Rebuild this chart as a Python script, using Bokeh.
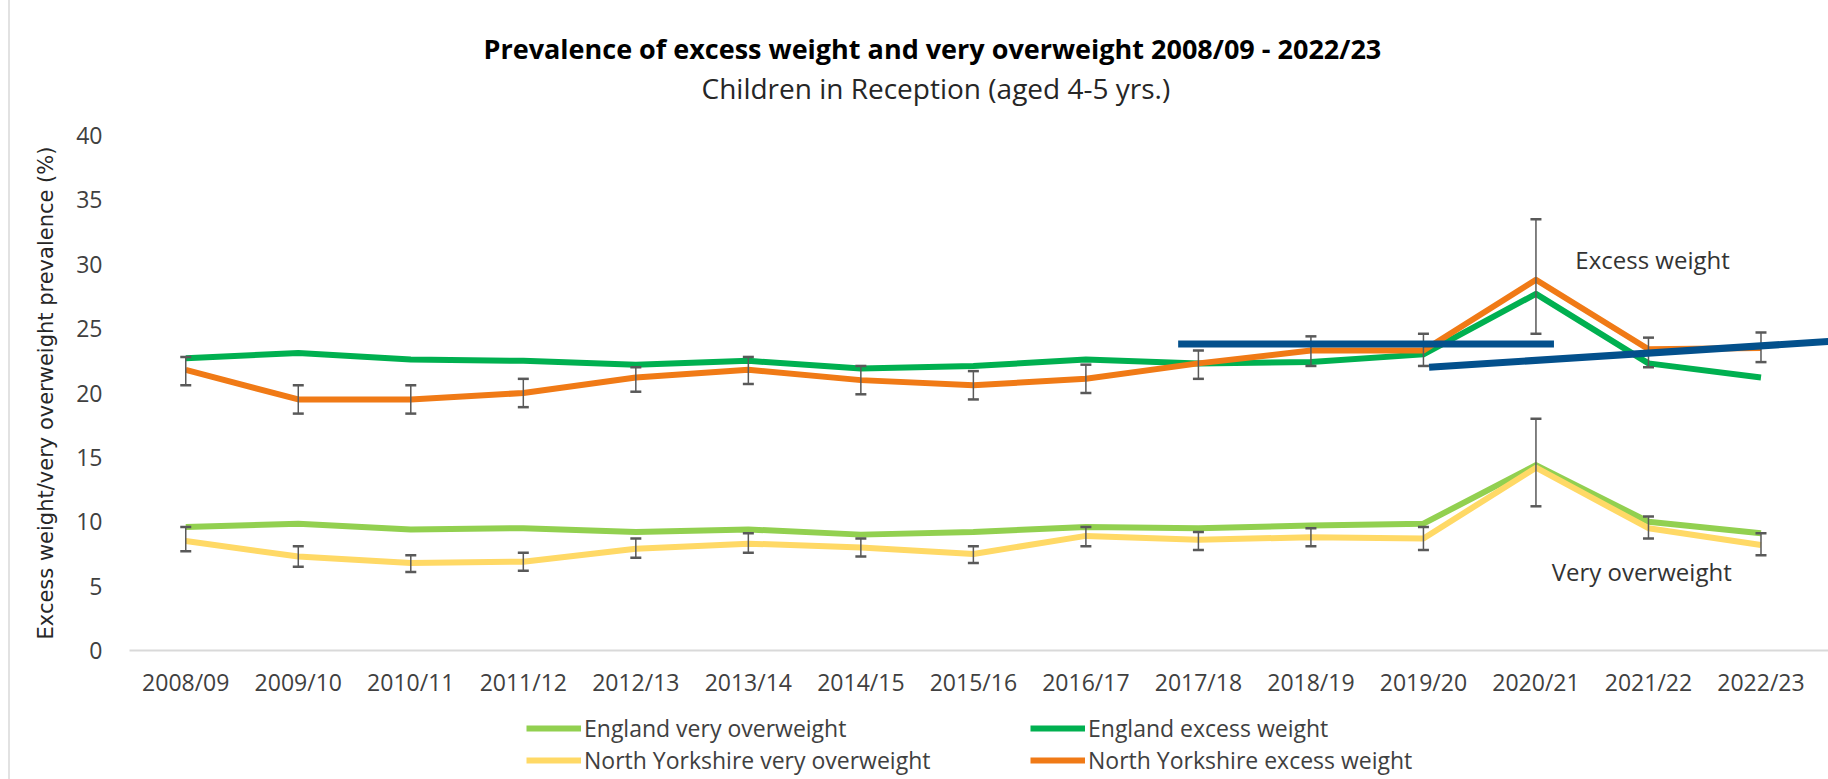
from bokeh.plotting import figure
from bokeh.layouts import column
from bokeh.models import (Range1d, FixedTicker, ColumnDataSource, Whisker, TeeHead,
                          Label, Legend, LegendItem, Title)
from bokeh.embed import file_html
from bokeh.resources import INLINE

# ---------------- data ----------------
years = ["2008/09", "2009/10", "2010/11", "2011/12", "2012/13", "2013/14", "2014/15",
         "2015/16", "2016/17", "2017/18", "2018/19", "2019/20", "2020/21", "2021/22", "2022/23"]

eng_very = [9.6, 9.85, 9.4, 9.5, 9.2, 9.4, 9.0, 9.2, 9.6, 9.5, 9.7, 9.85, 14.4, 10.0, 9.1]
eng_excess = [22.7, 23.1, 22.6, 22.5, 22.2, 22.5, 21.9, 22.1, 22.6, 22.3, 22.4, 23.0, 27.7, 22.3, 21.2]

ny_very = [8.5, 7.3, 6.8, 6.9, 7.9, 8.3, 8.0, 7.5, 8.9, 8.6, 8.8, 8.7, 14.2, 9.5, 8.2]
ny_very_lo = [7.7, 6.5, 6.1, 6.2, 7.2, 7.6, 7.3, 6.8, 8.1, 7.8, 8.1, 7.8, 11.2, 8.7, 7.4]
ny_very_hi = [9.6, 8.1, 7.4, 7.6, 8.7, 9.1, 8.7, 8.1, 9.6, 9.2, 9.5, 9.6, 18.0, 10.4, 9.1]

ny_excess = [21.8, 19.5, 19.5, 20.0, 21.2, 21.8, 21.0, 20.6, 21.1, 22.3, 23.3, 23.3, 28.8, 23.4, 23.5]
ny_excess_lo = [20.6, 18.4, 18.4, 18.9, 20.1, 20.7, 19.9, 19.5, 20.0, 21.1, 22.1, 22.1, 24.6, 22.0, 22.4]
ny_excess_hi = [22.8, 20.6, 20.6, 21.1, 22.0, 22.8, 22.1, 21.7, 22.2, 23.3, 24.4, 24.6, 33.5, 24.3, 24.7]

# hand-drawn trend annotations (category index, value)
trend_x = [[8.82, 12.16], [11.05, 14.6]]
trend_y = [[23.8, 23.8], [22.0, 24.0]]

series_names = ["England very overweight", "England excess weight",
                "North Yorkshire very overweight", "North Yorkshire excess weight"]
series_colors = ["#92D050", "#00B050", "#FFD966", "#F07A16"]

title_text = "Prevalence of excess weight and very overweight 2008/09 - 2022/23"
subtitle_text = "Children in Reception (aged 4-5 yrs.)"
y_label = "Excess weight/very overweight prevalence (%)"
y_ticks = [0, 5, 10, 15, 20, 25, 30, 35, 40]

# ---------------- main figure ----------------
W, H_MAIN, H_LEG = 1828, 700, 79
FL, FT, FB = 129, 135, 49  # frame borders

TXT = "Open Sans"
x = list(range(len(years)))

p = figure(width=W, height=H_MAIN, output_backend="svg", toolbar_location=None, title=None,
           x_range=Range1d(-0.5, 14.6), y_range=Range1d(0, 40),
           min_border_left=FL, min_border_right=0, min_border_top=FT, min_border_bottom=FB)
p.outline_line_color = None
p.xgrid.visible = False
p.ygrid.visible = False
p.background_fill_color = "white"
p.border_fill_color = None

# axes
p.xaxis.ticker = FixedTicker(ticks=x)
p.xaxis.major_label_overrides = {i: yv for i, yv in enumerate(years)}
p.xaxis.axis_line_color = "#d9d9d9"
p.xaxis.axis_line_width = 2
p.xaxis.major_tick_line_color = None
p.xaxis.minor_tick_line_color = None
p.xaxis.major_label_standoff = 9
p.xaxis.major_label_text_font = TXT
p.xaxis.major_label_text_font_size = "23px"
p.xaxis.major_label_text_color = "#404040"

p.yaxis.ticker = FixedTicker(ticks=y_ticks)
p.yaxis.axis_line_color = None
p.yaxis.major_tick_line_color = None
p.yaxis.minor_tick_line_color = None
p.yaxis.major_label_standoff = 21
p.yaxis.major_label_text_font = TXT
p.yaxis.major_label_text_font_size = "23px"
p.yaxis.major_label_text_color = "#404040"
p.yaxis.axis_label = y_label
p.yaxis.axis_label_text_font = "DejaVu Sans"
p.yaxis.axis_label_text_font_size = "21px"
p.yaxis.axis_label_text_font_style = "normal"
p.yaxis.axis_label_text_color = "#262626"
p.yaxis.axis_label_standoff = 15

# lines
vals = [eng_very, eng_excess, ny_very, ny_excess]
for v, c in zip(vals, series_colors):
    p.line(x, v, line_color=c, line_width=6, line_join="round")

# error bars (North Yorkshire)
for lo, hi in [(ny_excess_lo, ny_excess_hi), (ny_very_lo, ny_very_hi)]:
    src = ColumnDataSource(dict(x=x, lo=lo, hi=hi))
    w = Whisker(source=src, base="x", lower="lo", upper="hi",
                line_color="#595959", line_width=1.5, level="glyph",
                upper_head=TeeHead(size=11, line_color="#595959", line_width=2.5),
                lower_head=TeeHead(size=11, line_color="#595959", line_width=2.5))
    p.add_layout(w)

# blue trend annotation lines
p.multi_line(trend_x, trend_y, line_color="#03508C", line_width=7, level="overlay")

# series annotations
p.add_layout(Label(x=12.35, y=30.4, text="Excess weight", text_font=TXT,
                   text_font_size="24px", text_color="#333333",
                   text_align="left", text_baseline="middle"))
p.add_layout(Label(x=12.14, y=6.15, text="Very overweight", text_font=TXT,
                   text_font_size="24px", text_color="#333333",
                   text_align="left", text_baseline="middle"))

# titles: spacer (nearest frame), subtitle, title
p.add_layout(Title(text=" ", text_font_size="1px", standoff=26), "above")
p.add_layout(Title(text=subtitle_text, align="left", offset=572, standoff=0,
                   text_font=TXT, text_font_size="28px", text_font_style="normal",
                   text_color="#262626"), "above")
p.add_layout(Title(text=title_text, align="left", offset=354, standoff=0,
                   text_font=TXT, text_font_size="27px", text_font_style="bold",
                   text_color="#000000"), "above")

# ---------------- legend strip ----------------
lf = figure(width=W, height=H_LEG, output_backend="svg", toolbar_location=None, title=None,
            x_range=Range1d(0, 1), y_range=Range1d(0, 1),
            x_axis_location=None, y_axis_location=None,
            min_border_left=0, min_border_right=0, min_border_top=0, min_border_bottom=0)
lf.outline_line_color = None
lf.xgrid.visible = False
lf.ygrid.visible = False
lf.background_fill_color = None
lf.border_fill_color = None

items = []
for n, c, v in zip(series_names, series_colors, vals):
    # legend carriers: same series, outside the strip's visible range
    r = lf.line(x, v, line_color=c, line_width=6)
    items.append(LegendItem(label=n, renderers=[r]))
legend = Legend(items=items, location=(397, 3), orientation="horizontal", ncols=2,
                glyph_width=55, glyph_height=20, label_standoff=3, label_width=446,
                label_height=25, spacing=0, padding=0, margin=0,
                label_text_font=TXT, label_text_font_size="23px",
                label_text_color="#404040", border_line_color=None,
                background_fill_alpha=0)
lf.add_layout(legend)

layout = column(p, lf, spacing=0, styles={
    "background": "linear-gradient(to right, #ffffff 8px, #e2e2e2 8px, #e2e2e2 10px, #ffffff 10px)"})

open("out.html", "w").write(file_html(layout, INLINE))
